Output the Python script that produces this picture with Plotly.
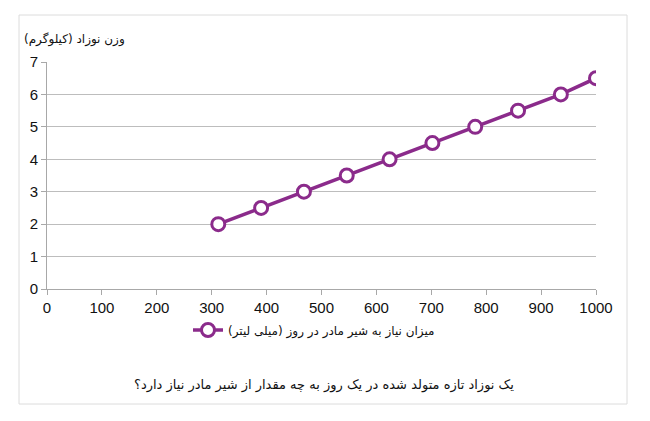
import plotly.graph_objects as go

milk_ml = [312, 390, 468, 546, 624, 702, 780, 858, 936, 1000]
weight_kg = [2, 2.5, 3, 3.5, 4, 4.5, 5, 5.5, 6, 6.5]
series_name = "میزان نیاز به شیر مادر در روز (میلی لیتر)"
y_title = "وزن نوزاد (کیلوگرم)"
caption = "یک نوزاد تازه متولد شده در یک روز به چه مقدار از شیر مادر نیاز دارد؟"

W, H = 650, 421
L, R, T, B = 47, 54, 62, 132
pw, ph = W - L - R, H - T - B

def px(x):
    return (x - L) / pw

def py(y):
    return (H - B - y) / ph

fig = go.Figure()
fig.add_trace(go.Scatter(
    x=milk_ml, y=weight_kg, mode="lines+markers", name=series_name,
    line=dict(color="#8B2B8B", width=3.5),
    marker=dict(size=13, color="white", line=dict(color="#8B2B8B", width=3)),
))

# border box
x0, x1, y0, y1 = px(19), px(627), py(404), py(15)
fig.add_shape(type="rect", xref="paper", yref="paper", x0=x0, x1=x1, y0=y0, y1=y1,
              line=dict(color="#DCDCDC", width=1), layer="below")

fig.add_annotation(xref="paper", yref="paper", x=px(22), y=py(40), xanchor="left", yanchor="middle",
                   text=y_title, showarrow=False,
                   font=dict(family="DejaVu Sans", size=12, color="#111"))
fig.add_annotation(xref="paper", yref="paper", x=px(324), y=py(385), xanchor="center", yanchor="middle",
                   text=caption, showarrow=False,
                   font=dict(family="DejaVu Sans", size=13, color="#111"))

fig.update_layout(
    width=W, height=H, margin=dict(l=L, r=R, t=T, b=B),
    paper_bgcolor="white", plot_bgcolor="white",
    showlegend=True,
    legend=dict(x=px(188), y=py(330), xanchor="left", yanchor="middle",
                font=dict(family="DejaVu Sans", size=12, color="#111"),
                bgcolor="rgba(0,0,0,0)", itemwidth=30),
    xaxis=dict(range=[0, 1000], tickvals=list(range(0, 1001, 100)),
               showgrid=False, zeroline=False, showline=True, linecolor="#A8A8A8", linewidth=1,
               ticks="outside", ticklen=5, tickcolor="#A8A8A8",
               tickfont=dict(family="Liberation Sans, Arial", size=15, color="#111")),
    yaxis=dict(range=[0, 7], tickvals=list(range(0, 8)),
               showgrid=True, gridcolor="#BDBDBD", gridwidth=1, zeroline=False,
               showline=True, linecolor="#A8A8A8", linewidth=1,
               ticks="outside", ticklen=5, tickcolor="#A8A8A8",
               tickfont=dict(family="Liberation Sans, Arial", size=15, color="#111")),
)

fig.write_html("out.html")
